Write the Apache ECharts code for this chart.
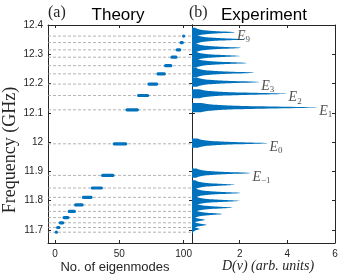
<!DOCTYPE html>
<html><head><meta charset="utf-8">
<script src="https://cdn.jsdelivr.net/npm/echarts@6/dist/echarts.min.js"></script>
<style>html,body{margin:0;padding:0;background:#fff}#c{width:343px;height:277px}</style>
</head><body><div id="c"></div>
<script>
// Theory: groups of nearly-degenerate eigenmodes (mode index range, frequency in GHz)
const groupFreq  = [11.692, 11.708, 11.724, 11.742, 11.763, 11.785, 11.811, 11.843, 11.886, 11.994, 12.110, 12.159, 12.198, 12.233, 12.261, 12.290, 12.315, 12.340, 12.362];
const groupStart = [1, 2, 4, 7, 11, 16, 22, 29, 37, 46, 56, 65, 73, 80, 86, 91, 95, 98, 100];
const groupEnd   = [1, 3, 6, 10, 15, 21, 28, 36, 45, 55, 64, 72, 79, 85, 90, 94, 97, 99, 100];
// Experiment: density-of-states peaks (frequency GHz, height arb. units)
const peakFreq   = [11.703, 11.717, 11.734, 11.754, 11.776, 11.799, 11.826, 11.854, 11.894, 11.996, 12.118, 12.165, 12.205, 12.237, 12.270, 12.294, 12.322, 12.351, 12.375];
const peakHeight = [0.32, 0.62, 0.55, 1.26, 1.68, 2.0, 2.03, 1.78, 2.45, 3.17, 5.25, 3.97, 2.82, 2.6, 2.3, 2.0, 2.05, 2.2, 1.8];
const peakLabel  = ['', '', '', '', '', '', '', '', '−1', '0', '1', '2', '3', '', '', '', '', '', '9'];

const BLUE = '#0072BD', AX = '#262626';
const yMin = 11.655, yMax = 12.4;
const x1Min = -5.5, x1Max = 106.5;
const x2Min = 0, x2Max = 6;

const tickFont = {fontFamily: 'Liberation Sans', fontSize: 10, color: AX};
function xAx(grid, min, max, pos, labels, extra) {
  return Object.assign({
    type: 'value', gridIndex: grid, min: min, max: max, position: pos,
    axisLine: {show: true, onZero: false, lineStyle: {color: AX, width: 1}},
    axisTick: {show: true, inside: true, length: 3, lineStyle: {color: AX}},
    axisLabel: Object.assign({show: labels, margin: 6, showMinLabel: false, showMaxLabel: false}, tickFont),
    splitLine: {show: false}
  }, extra || {});
}
function yAx(grid, pos, labels) {
  return {
    type: 'value', gridIndex: grid, min: yMin, max: yMax, position: pos,
    axisLine: {show: true, onZero: false, lineStyle: {color: AX, width: 1}},
    axisTick: {show: true, inside: true, length: 3, lineStyle: {color: AX}},
    axisLabel: Object.assign({show: labels, margin: 5, showMinLabel: false}, tickFont),
    splitLine: {show: false}
  };
}

const groupData = groupFreq.map((f, i) => [groupStart[i], groupEnd[i], f]);
const peakData = peakFreq.map((f, i) => [peakHeight[i], f]);
const labelData = peakFreq.map((f, i) => ({value: [peakHeight[i], f], sub: peakLabel[i]})).filter(d => d.sub !== '');

const chart = echarts.init(document.getElementById('c'), null, {renderer: 'canvas'});
chart.setOption({
  animation: false,
  backgroundColor: '#fff',
  grid: [
    {left: 48, top: 25, width: 144, height: 218},
    {left: 192, top: 25, width: 143, height: 218}
  ],
  xAxis: [
    xAx(0, x1Min, x1Max, 'bottom', true, {splitNumber: 2}),
    xAx(0, x1Min, x1Max, 'top', false, {splitNumber: 2}),
    xAx(1, x2Min, x2Max, 'bottom', true, {interval: 2, axisLabel: Object.assign({show: true, margin: 6, showMinLabel: false, showMaxLabel: true}, tickFont)}),
    xAx(1, x2Min, x2Max, 'top', false, {interval: 2})
  ],
  yAxis: [
    yAx(0, 'left', true),
    yAx(0, 'right', false),
    yAx(1, 'left', false),
    yAx(1, 'right', false)
  ],
  series: [
    {
      type: 'custom', xAxisIndex: 0, yAxisIndex: 0, z: 1,
      data: groupFreq.map(f => [f]),
      encode: {y: 0},
      renderItem: function (params, api) {
        const cs = params.coordSys;
        const y = api.coord([x1Min, api.value(0)])[1];
        return {type: 'line', shape: {x1: cs.x, y1: y, x2: cs.x + cs.width, y2: y},
          style: {stroke: '#a0a0a0', lineWidth: 0.8, lineDash: [3, 2]}};
      }
    },
    {
      type: 'custom', xAxisIndex: 0, yAxisIndex: 0, z: 2,
      data: groupData,
      encode: {x: [0, 1], y: 2},
      renderItem: function (params, api) {
        const f = api.value(2);
        const a = api.coord([api.value(0), f]);
        const b = api.coord([api.value(1), f]);
        const r = 1.6;
        return {type: 'rect', shape: {x: a[0] - r, y: a[1] - r, width: b[0] - a[0] + 2 * r, height: 2 * r, r: r},
          style: {fill: BLUE}};
      }
    },
    {
      type: 'custom', xAxisIndex: 2, yAxisIndex: 2, z: 2,
      data: peakData,
      encode: {x: 0, y: 1},
      renderItem: function (params, api) {
        const h = api.value(0), f = api.value(1);
        const g = 0.0045, n = 3.5, steps = 40;
        const pts = [api.coord([0, f - n * g])];
        for (let k = -steps; k <= steps; k++) {
          const d = k * n * g / steps;
          pts.push(api.coord([h / (1 + (d / g) * (d / g)), f + d]));
        }
        pts.push(api.coord([0, f + n * g]));
        return {type: 'polygon', shape: {points: pts}, style: {fill: BLUE}};
      }
    },
    {
      type: 'scatter', xAxisIndex: 2, yAxisIndex: 2, z: 3,
      symbolSize: 0,
      data: labelData,
      label: {
        show: true, position: 'right', distance: 2, offset: [0, 4],
        formatter: function (p) { return '{e|E}{s|' + p.data.sub + '}'; },
        rich: {
          e: {fontFamily: 'Liberation Serif', fontStyle: 'italic', fontSize: 14, color: AX},
          s: {fontFamily: 'Liberation Serif', fontSize: 9, color: AX, padding: [7, 0, 0, 0]}
        }
      }
    }
  ],
  graphic: [
    {type: 'text', left: 48, top: 5, style: {text: '(a)', font: '16px "Liberation Serif"', fill: AX}},
    {type: 'text', x: 118, y: 15, style: {text: 'Theory', font: '17px "Liberation Sans"', fill: '#000', align: 'center', verticalAlign: 'middle'}},
    {type: 'text', left: 189, top: 5, style: {text: '(b)', font: '16px "Liberation Serif"', fill: AX}},
    {type: 'text', x: 264, y: 15, style: {text: 'Experiment', font: '17px "Liberation Sans"', fill: '#000', align: 'center', verticalAlign: 'middle'}},
    {type: 'text', x: 10, y: 150, rotation: Math.PI / 2, style: {text: 'Frequency (GHz)', font: '18px "Liberation Serif"', fill: AX, align: 'center', verticalAlign: 'middle'}},
    {type: 'text', x: 115, y: 267, style: {text: 'No. of eigenmodes', font: '13px "Liberation Sans"', fill: AX, align: 'center', verticalAlign: 'middle'}},
    {type: 'text', x: 268, y: 266, style: {text: 'D(ν) (arb. units)', font: 'italic 14px "Liberation Serif"', fill: AX, align: 'center', verticalAlign: 'middle'}}
  ]
});
</script></body></html>
